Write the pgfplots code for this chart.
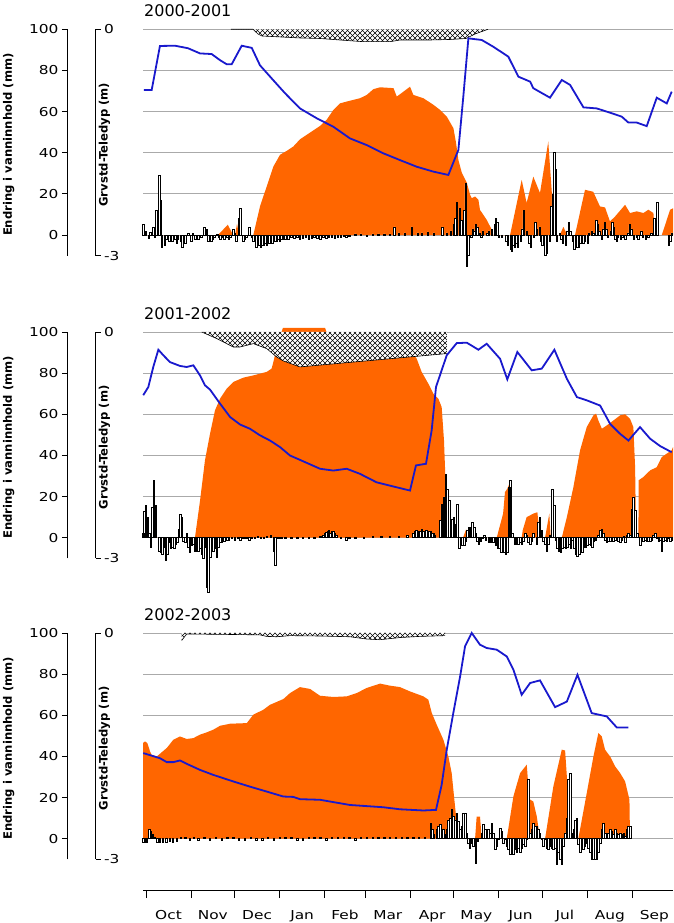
\documentclass[border=0pt]{standalone}
\usepackage{pgfplots}
\pgfplotsset{compat=1.18}
\usepackage{fontspec}
\setmainfont{DejaVu Sans}
\newfontfamily\tickfont[FakeStretch=1.25]{DejaVu Sans}
\usetikzlibrary{patterns.meta}
\definecolor{snow}{RGB}{255,102,0}
\definecolor{gw}{RGB}{25,25,205}
\definecolor{gridc}{RGB}{170,170,170}
\tikzdeclarepattern{
  name=diamonds, type=uncolored,
  bounding box={(-0.5pt,-0.5pt) and (5.5pt,5.5pt)},
  tile size={(5pt,5pt)},
  code={
    \draw[line width=0.45pt] (0pt,0pt) -- (5pt,5pt);
    \draw[line width=0.45pt] (0pt,5pt) -- (5pt,0pt);
  }
}
\newcommand\tickfs{\tickfont\fontsize{12.3}{14}\selectfont}
\newcommand\labfs{\bfseries\fontsize{11.6}{13}\selectfont}
\pgfplotsset{
  dataax/.style={scale only axis, width=530pt, height=226.3pt, xmin=-2.07, xmax=362.9,
    ymin=-10, ymax=100, anchor=south west, axis line style={draw=none},
    xtick=\empty, ytick={0,20,40,60,80,100}, yticklabels={,,,,,}, major tick length=0pt,
    ymajorgrids, grid style={gridc, line width=0.8pt}, clip=false,
    every axis title/.style={at={(axis description cs:0.0019,1)}, anchor=base west, yshift=12.4pt,
      inner sep=0pt, font=\fontsize{16}{18}\selectfont}},
  secax/.style={scale only axis, width=530pt, height=226.3pt, xmin=-2.07, xmax=362.9,
    ymin=-3, ymax=0, anchor=south west, hide axis, clip=false},
  leftax/.style={scale only axis, width=10pt, height=226.3pt, xmin=0, xmax=1,
    ymin=-10, ymax=100, anchor=south west, axis x line=none, axis y line*=left,
    y axis line style={-, line width=0.8pt}, xtick=\empty,
    ytick={0,20,40,60,80,100}, yticklabels={0,20,40,60,80,100},
    tick align=outside, major tick length=5.7pt, tick style={line width=0.8pt, black},
    yticklabel style={font=\tickfs},
    ylabel={Endring i vanninnhold (mm)},
    ylabel style={at={(axis description cs:-5.9,0.49)}, anchor=center, font=\labfs}},
  rightax/.style={scale only axis, width=10pt, height=226.3pt, xmin=0, xmax=1,
    ymin=-3, ymax=0, anchor=south west, axis x line=none, axis y line*=right,
    y axis line style={-, line width=0.8pt}, xtick=\empty,
    ytick={-3,0}, yticklabels={-3,0},
    tick align=outside, major tick length=5pt, tick style={line width=0.8pt, black},
    yticklabel style={font=\tickfs},
    ylabel={Grvstd-Teledyp (m)},
    ylabel style={at={(axis description cs:1.9,0.49)}, anchor=center, font=\labfs}},
  snowplot/.style={fill=snow, draw=none},
  barplot/.style={ybar, bar width=1, fill=white, draw=black, line width=0.5pt},
  gwplot/.style={gw, line width=1.8pt},
}
\begin{document}
\begin{tikzpicture}[x=1pt,y=1pt]
\path[use as bounding box] (0,0) rectangle (673,923);
%================ PANEL 1 ================
\begin{axis}[dataax, at={(143pt,667.4pt)}, title={2000-2001}]
\addplot[snowplot] coordinates {(-2,0) (49.6,0) (56.3,5) (60,0) (61.3,0) (62.7,5.5) (64,0) (73.9,0) (78.5,13.9) (83.1,23.6) (87.7,33.3) (92.3,39) (96.9,40.9) (101.4,43) (106,46.5) (119.8,53) (124.4,56) (129,60.8) (133.6,64) (140.5,65.3) (147.4,66.5) (152,68.1) (156.6,70.9) (161.2,71.8) (170.4,71.4) (172.7,67.3) (177.3,69.7) (181.8,72.1) (184.1,68.1) (191,66.5) (197.9,63.3) (202.5,60.8) (207.1,57.6) (211.7,51.9) (213.5,44.8) (215.1,36.5) (217.5,30.2) (220.9,25.4) (223.2,19.5) (224.3,17.9) (226.6,18.7) (228.9,17.1) (230,12.2) (234.6,7.4) (238.1,2.6) (239.2,0) (250.7,0) (258.7,26.8) (262.1,15.6) (266.7,28.4) (271.3,20.4) (277,45.4) (280.5,10) (281.7,0) (285,0) (287.4,4) (290,0) (295.4,0) (302.3,22) (308,21) (312.6,13.9) (316.1,13.4) (319.5,6.6) (323,9) (329.9,14.7) (333.3,10.7) (337.9,11.5) (342.5,10.7) (345.9,12.3) (349.4,10.7) (350.6,0) (355.2,0) (360.9,12.3) (362.9,13) (362.9,0)};
\addplot[barplot] coordinates {(-2,5) (0,2) (2,-1.5) (3,1.5) (5,4) (6,-1) (7,12) (9,29) (10,17) (11,-6) (13,-5) (14,-2) (16,-3) (17,-2) (18,-3) (20,-2) (21,-4) (22,-2) (24,-3) (25,-6) (27,-4) (29,1) (31,-3) (32,1) (34,-2) (35,-1) (36,-2) (38,-1) (40,4) (42,3) (43,-3) (45,-3) (46,-2) (47,-1) (49,0.5) (50,-1) (51,-2) (53,-1) (54,-2) (56,-1) (57,-2) (58,-1) (60,3) (61,1) (62,-3) (64,8) (65,13) (67,-3) (68,-2) (69,-1) (71,4) (73,-1) (74,-3) (76,-6) (77,-5) (78,-5) (79,-6) (80,-5) (81,-5) (82,-4) (83,-5) (84,-4) (85,-4) (86,-3) (87,-4) (88,-3) (89,-3) (90,-3) (91,-2) (92,-3) (93,-2) (94,-2) (95,-2) (96,-2) (97,-1) (98,-2) (99,-1) (100,-1) (102,-1.5) (104,-1) (106,-2) (108,-1.5) (110,-1) (112,-2) (114,-1.5) (116,-1) (118,-1.5) (120,-2) (122,-1) (124,-1.5) (126,-1) (128,-1) (130,-1.5) (132,-1) (134,-1) (136,-0.5) (138,-1) (140,-0.5) (144,0.5) (148,0.5) (152,-0.5) (156,0.5) (160,0.5) (164,0.5) (168,0.5) (171,4) (174,1) (178,1) (183,4) (187,1) (190,1) (194,1.5) (198,1) (204,4) (207,1) (210,2) (212,5) (213,8) (214,16) (216,13) (217,7) (218,5) (219,12) (220,25) (221,-15) (222,-10) (224,-1) (225,3) (226,2) (227,5) (228,4) (230,1) (231,-1) (232,2) (235,1) (236,2) (238,3) (240,5) (241,8) (242,6) (243,-1) (245,-1) (248,-3) (249,-5) (251,-7) (252,-8) (253,-5) (254,-6) (255,-4) (256,-6) (258,-3) (259,3) (260,12) (262,2) (264,-4) (265,-6) (267,-1) (268,6) (269,3) (271,4) (272,-3) (273,-5) (275,-10) (276,-9) (278,-3) (279,14) (280,20) (281,40) (282,32) (283,-3) (285,1) (286,-2) (287,-4) (289,-5) (290,2) (291,6) (292,2) (294,-3) (295,-7) (297,-6) (298,-6) (299,-4) (301,-4) (302,-3) (304,-4) (305,1) (307,2) (308,1) (310,7) (311,5) (312,2) (314,-2) (315,3) (316,6) (317,3) (318,-1) (320,2) (321,6) (322,4) (323,-2) (324,-3) (325,-1) (327,-2) (328,-1) (330,-2) (332,1) (333,5) (334,3) (336,-2) (338,-1) (339,-2) (341,2) (342,-1) (344,-2) (346,-1) (348,1) (350,8) (352,16) (360,-5) (361,-3) (362,1)};
\end{axis}
\begin{axis}[secax, at={(143pt,667.4pt)}]
\addplot[fill=white, draw=none] coordinates {(58.5,0) (73.7,0) (77.1,-0.062) (79.9,-0.089) (106,-0.115) (119.8,-0.122) (133.6,-0.142) (149.4,-0.164) (168,-0.164) (174.9,-0.142) (195.6,-0.142) (209.4,-0.135) (220.4,-0.122) (226.6,-0.062) (235.5,0)};
\addplot[pattern=diamonds, pattern color=black, draw=none] coordinates {(58.5,0) (73.7,0) (77.1,-0.062) (79.9,-0.089) (106,-0.115) (119.8,-0.122) (133.6,-0.142) (149.4,-0.164) (168,-0.164) (174.9,-0.142) (195.6,-0.142) (209.4,-0.135) (220.4,-0.122) (226.6,-0.062) (235.5,0)};
\addplot[black, line width=0.6pt] coordinates {(58.5,0) (73.7,0) (77.1,-0.062) (79.9,-0.089) (106,-0.115) (119.8,-0.122) (133.6,-0.142) (149.4,-0.164) (168,-0.164) (174.9,-0.142) (195.6,-0.142) (209.4,-0.135) (220.4,-0.122) (226.6,-0.062) (235.5,0)};
\addplot[gwplot] coordinates {(-1.4,-0.806) (3.9,-0.806) (9.6,-0.221) (20,-0.218) (28.9,-0.251) (37.2,-0.320) (45.2,-0.328) (51,-0.410) (55.6,-0.464) (59,-0.464) (65.9,-0.218) (72.8,-0.246) (78.5,-0.478) (87.5,-0.672) (95.7,-0.847) (106,-1.049) (117.6,-1.180) (129,-1.292) (140.5,-1.447) (152,-1.535) (163.4,-1.644) (174.9,-1.734) (186.4,-1.822) (197.9,-1.887) (208.2,-1.931) (215.1,-1.600) (218.5,-0.893) (222,-0.120) (231.2,-0.142) (239.2,-0.232) (249.5,-0.363) (256.4,-0.628) (264.5,-0.694) (266.7,-0.781) (278.2,-0.907) (286.3,-0.672) (292,-0.737) (301.2,-1.035) (310.4,-1.049) (319.6,-1.106) (327.6,-1.158) (332.2,-1.237) (338,-1.237) (344.8,-1.284) (351.7,-0.907) (358.6,-0.983) (362,-0.827)};
\end{axis}
\begin{axis}[leftax, at={(67.7pt,667.4pt)}]
\addplot[draw=none] coordinates {(0,0)};
\end{axis}
\begin{axis}[rightax, at={(85.5pt,667.4pt)}]
\addplot[draw=none] coordinates {(0,-1)};
\end{axis}
%================ PANEL 2 ================
\begin{axis}[dataax, at={(143pt,364.7pt)}, title={2001-2002}]
\addplot[snowplot] coordinates {(-2,0) (33.7,0) (37.2,18) (40.6,37.6) (44.1,50.6) (47.5,61.9) (51,67.6) (55.6,72.5) (60.1,75.7) (67,77.8) (73.9,78.9) (83.1,80.6) (86.5,82.2) (87.7,85.4) (90.9,95) (94.3,102) (123.3,102) (126.7,95) (181.8,92) (186.4,87) (189.8,80.6) (194.4,74.9) (197.9,70) (201.3,67.6) (203.6,63.5) (205.2,47.3) (206.4,24.6) (208.2,11.7) (210.5,0) (218.3,0) (220.4,4) (223.1,0) (241.5,0) (245.9,11.7) (247.2,22.2) (248.8,23.8) (250.7,27) (251.4,0) (258.7,0) (259.4,3.6) (262.1,10) (266.7,11.7) (269.5,12.4) (271.3,0) (274.8,0) (277.7,11.7) (278.7,0) (286.3,0) (289.8,10) (294.3,24.6) (298.9,42.5) (303.5,53.8) (308.1,59.5) (309.9,60.3) (311.5,57) (313.9,53) (317.3,54.6) (321.9,57) (326.5,59.5) (329.9,60) (333.3,57.8) (335.6,53.8) (336.8,34.3) (337.5,0) (339.1,0) (339.2,27.9) (342.5,29.5) (347.1,32.7) (351.7,34.3) (355.2,39.2) (358.6,40.9) (362,42.5) (362.9,44) (362.9,0)};
\addplot[barplot] coordinates {(-2,2) (-1.2,13) (0,16) (1.2,10) (2.3,2) (3.2,-4.5) (4.3,15) (5.5,28) (6.7,16) (9,-6.5) (10.1,-7) (11.2,-8) (12.4,-4.5) (13.6,-11) (14.7,-8) (15.8,-2) (17,-5) (18.1,-4.5) (19.3,-5) (20.5,-3) (21.6,-2) (22.7,4) (23.6,11.6) (24.6,10) (25.7,-1.5) (26.9,-2) (28,2) (29.1,-4.5) (30.3,-7) (31.5,-3.5) (32.6,-3) (33.7,-6.5) (34.9,-6.5) (36,-6.5) (37.2,-5) (38.4,-8) (39.5,-10) (40.6,-4.5) (41.8,-24) (42.9,-26.5) (44.1,-9.5) (45.2,-4.5) (46.3,-6.5) (47.5,-5) (48.7,-9.5) (49.8,-4.5) (51,-2) (52,-2) (53,-1.5) (54,-1.5) (55,-1) (56,-1) (57,-1) (59,-0.5) (61,-1) (63,-0.5) (65,-1) (67,-0.5) (69,-0.5) (71,-1) (73,-0.5) (75,-0.5) (77,0.5) (79,-0.5) (81,-0.5) (83,0.5) (86,1) (88,-6.5) (89,-13.5) (91,-0.5) (93,-0.5) (96,-0.5) (100,-0.5) (104,-0.5) (108,-0.5) (112,-0.5) (116,-0.5) (120,0.5) (122,1) (123,2) (124,2.5) (125,3) (126,3.5) (127,2) (128,3) (129,3) (130,2) (131,1) (134,-0.5) (138,-1) (140,-0.5) (144,-0.5) (150,-0.5) (156,0.5) (162,0.5) (168,0.5) (174,0.5) (180,1) (184,2) (185,3) (186,3.5) (187,3) (188,2) (189,3) (190,4) (191,3) (192,3) (193,3.5) (194,2) (195,3) (196,3) (197,2) (198,2) (199,1) (202.5,8.4) (203.6,16.2) (205.2,19.8) (206.4,31) (207.5,23.8) (208.7,18) (209.8,9.2) (211,9.2) (212.1,10) (213.3,6.5) (214.4,16.2) (215.6,-5) (216.7,-2) (217.8,-3.5) (219,-3.5) (220.2,-1.5) (221.3,3.5) (222.4,5) (223.6,5) (224.7,7.5) (225.9,5) (227.1,2) (228.2,-1.5) (229.3,-3) (230.5,-1.5) (231.6,-0.5) (232.8,1) (234,-1) (236,-2) (237.5,-2) (239,-2) (241,-3.5) (242.2,-5) (243.3,-5) (244.5,-7) (245.7,-4.5) (246.8,-7) (247.9,-8) (248.8,-7) (250,24.6) (250.9,27.9) (252.1,2) (254.1,-3) (255.3,-3) (256.4,-3) (257.6,-2) (258.7,-3) (259.8,-1.5) (261,2) (262.2,1) (263.3,-2) (264.5,-3) (265.6,-1.5) (266.7,2) (269.1,-3) (270.2,7.5) (271.3,10) (272.5,3.5) (273.6,-1.5) (274.8,-3) (276,-6.5) (277.1,-3) (278.2,1) (279.6,23.8) (281,15.7) (282.2,-1) (283.3,-5) (284.4,-6.5) (285.6,-7) (286.7,-5) (287.9,-4.5) (289,-5) (290.2,-4.5) (291.3,-3) (292.5,-5) (293.6,-1) (294.8,-5) (295.9,-8) (297,-9) (298.2,-8) (299.4,-7) (300.5,-7) (301.6,-4.5) (302.8,-4.5) (303.9,-3.5) (305.1,-3) (306.3,-3.5) (307.4,-4.5) (308.5,-1.5) (309.7,-1) (311.5,1) (312.7,3.5) (313.8,4) (314.9,2) (316.1,-1) (317.3,-2) (318.4,-1.5) (319.6,-1.5) (320.7,-1) (321.9,-1.5) (323,-1) (324.2,-0.5) (325.3,-1.5) (326.5,-2) (327.6,-1) (328.8,0.5) (329.9,-2) (331.1,1) (332.2,2) (333.3,1) (334.5,14) (335.6,19.8) (336.8,13.3) (338.4,2) (340.2,-3.5) (341.4,-1.5) (342.5,-1.5) (343.7,-1) (344.8,-1.5) (346,-1.5) (347.1,-1.5) (348.3,-1) (349.4,1) (350.6,2) (351.7,-0.5) (352.9,-1.5) (354,-1) (355.2,-6.5) (356.3,-1.5) (357.4,-1) (358.6,-1.5) (359.7,-0.5) (360.9,-1.5) (362,-1)};
\end{axis}
\begin{axis}[secax, at={(143pt,364.7pt)}]
\addplot[fill=white, draw=none] coordinates {(38.4,0) (48.7,-0.087) (60.1,-0.199) (64.7,-0.199) (73.9,-0.154) (83.1,-0.220) (90,-0.331) (94.6,-0.384) (106,-0.463) (207.1,-0.286) (207.1,0)};
\addplot[pattern=diamonds, pattern color=black, draw=none] coordinates {(38.4,0) (48.7,-0.087) (60.1,-0.199) (64.7,-0.199) (73.9,-0.154) (83.1,-0.220) (90,-0.331) (94.6,-0.384) (106,-0.463) (207.1,-0.286) (207.1,0)};
\addplot[black, line width=0.6pt] coordinates {(38.4,0) (48.7,-0.087) (60.1,-0.199) (64.7,-0.199) (73.9,-0.154) (83.1,-0.220) (90,-0.331) (94.6,-0.384) (106,-0.463) (207.1,-0.286)};
\addplot[gwplot] coordinates {(-1.9,-0.838) (1.6,-0.729) (5,-0.464) (8.5,-0.235) (11.9,-0.308) (16.5,-0.399) (23.4,-0.450) (28,-0.464) (32.6,-0.442) (37.2,-0.576) (40.6,-0.707) (44.1,-0.764) (51,-0.950) (57.9,-1.127) (64.7,-1.226) (71.6,-1.283) (78.5,-1.370) (85.4,-1.439) (92.3,-1.526) (99.2,-1.638) (106,-1.695) (119.8,-1.813) (129,-1.837) (138.2,-1.813) (147.4,-1.881) (158.8,-1.993) (170.3,-2.048) (181.8,-2.102) (185.9,-1.769) (192.8,-1.747) (196.7,-1.305) (199.7,-0.729) (207.1,-0.308) (214,-0.147) (220.9,-0.142) (228.9,-0.235) (234.6,-0.156) (243.8,-0.355) (248.8,-0.628) (255.7,-0.265) (265.6,-0.508) (272.5,-0.486) (281.2,-0.235) (289.8,-0.620) (296.7,-0.863) (303.5,-0.906) (312.7,-0.975) (319.6,-1.218) (326.4,-1.349) (332.2,-1.439) (340.2,-1.261) (347.1,-1.414) (354,-1.512) (362,-1.594)};
\end{axis}
\begin{axis}[leftax, at={(67.7pt,364.7pt)}]
\addplot[draw=none] coordinates {(0,0)};
\end{axis}
\begin{axis}[rightax, at={(85.5pt,364.7pt)}]
\addplot[draw=none] coordinates {(0,-1)};
\end{axis}
%================ PANEL 3 ================
\begin{axis}[dataax, at={(143pt,63.7pt)}, title={2002-2003}]
\addplot[snowplot] coordinates {(-2.07,0) (-2.07,46.5) (-0.7,47.3) (0.9,46.5) (2.8,42.4) (3.9,40.8) (7.4,40) (9.6,41.3) (14.3,44.1) (18.8,48.1) (23.4,49.7) (28,48.5) (32.6,48.9) (37.2,50.6) (41.8,51.7) (46.3,53) (51,54.9) (57.9,55.9) (69.4,56.2) (73.9,60.3) (80.8,62.7) (85.4,65.1) (94.6,67.9) (99.2,70.8) (106,73.7) (113,72.8) (119.8,69.5) (129,68.9) (138.2,69.2) (145.1,70.8) (152,73.3) (161.2,75.4) (168,74.4) (174.9,73.7) (181.8,71.6) (191,69.2) (194.4,67.6) (196.8,61.1) (200.2,55.4) (204.8,48.1) (208.2,40) (210.5,31.9) (212.1,20.6) (214,7.6) (215.1,0) (226.6,0) (227.7,10.8) (230,10.8) (231.2,0) (248.4,0) (253,20.6) (257.6,31.9) (262.2,36) (263.3,25.4) (264.5,19) (266.7,18.1) (269.1,10.8) (271.3,0) (274.8,0) (280.5,25.4) (286.3,43.3) (288.6,42.9) (289.8,30.3) (290.4,0) (297.7,0) (303.5,22.2) (308.1,40) (311.5,51.4) (313.8,49.8) (316.1,43.3) (319.6,40) (323,35.2) (326.5,31.9) (329.9,27.9) (332.9,19) (333.3,0)};
\addplot[barplot] coordinates {(-1.9,-1.5) (-0.7,-1.5) (0.5,-1.5) (2.3,4.4) (3.4,3.6) (4.6,2) (5.7,0.7) (7.6,-1.5) (9.6,-1.5) (11.7,-1.5) (13.8,-1.5) (16.5,-1) (18.6,-1.5) (21.1,-1) (24,0.5) (27,0.5) (30,-0.5) (33,0.5) (36,-0.5) (40,0.5) (44,-0.5) (48,0.5) (52,-0.5) (56,0.5) (60,0.5) (64,-0.5) (68,-0.5) (72,0.5) (76,-0.5) (80,-0.5) (84,0.5) (88,-0.5) (92,0.5) (96,0.5) (100,0.5) (104,-0.5) (108,-0.5) (112,0.5) (116,0.5) (120,0.5) (124,-0.5) (128,0.5) (132,0.5) (136,0.5) (140,0.5) (144,-0.5) (148,0.5) (152,0.5) (156,0.5) (160,0.5) (164,0.5) (168,0.5) (172,0.5) (176,0.5) (180,0.5) (184,0.5) (188,0.5) (192,0.5) (196.1,7.6) (197.2,4.4) (198.3,2) (200.2,4.4) (201.3,5.9) (202.5,6.8) (203.6,2.8) (204.8,4.4) (205.9,2) (207.1,4.4) (208.2,9.2) (209.4,10) (210.5,14.1) (211.6,10.8) (212.8,9.2) (214,12.4) (215.1,8.4) (216.3,4.4) (217.4,5.9) (218.5,12.4) (219.7,12.4) (220.9,2.8) (222,-2) (223.1,-4.4) (224.3,-2) (225.4,-3.6) (227.1,-11.8) (228.4,-1.2) (229.5,0.3) (231.2,2.8) (232.3,6.8) (233.5,4.4) (234.6,2) (235.7,4.4) (236.9,2.8) (238.1,7.6) (239.2,2.8) (240.4,-5.2) (241.5,-3.6) (242.6,-0.4) (243.8,5.1) (245,3.6) (246.1,-2) (247.2,-0.4) (248.4,-3.6) (249.5,-5.2) (250.7,-7.6) (251.9,-6.8) (253,-7.6) (254.1,-5.2) (255.3,-6.8) (256.4,-4.4) (257.6,-6.8) (258.7,-4.4) (259.8,-2.8) (261,-3.6) (262.2,-0.4) (263.3,28.7) (264.5,2.8) (265.6,4.4) (266.7,7.6) (267.9,5.9) (269.1,5.9) (270.2,4.4) (271.3,2.8) (272.5,-0.4) (273.6,-3.6) (274.8,-0.4) (276,-4.4) (277.1,-5.2) (278.2,-3.6) (279.4,-4.4) (280.5,-5.2) (281.7,-4.4) (282.9,-12.2) (284,-6.8) (285.1,-10) (286.3,-12.6) (287.4,-3.6) (288.6,2.8) (289.8,10) (290.9,28.7) (292.1,32) (293.3,2.8) (294.4,4.4) (295.5,9.2) (296.7,10) (297.7,-2.8) (298.9,-6.8) (300.1,-3.6) (301.2,-5.2) (302.3,-3.6) (303.5,-2) (304.6,-4.4) (305.8,-6.8) (306.9,-10) (308.1,-10) (309.2,-10) (310.4,-10) (311.5,-6.8) (312.7,-2) (313.8,4.4) (314.9,7.6) (316.1,2.8) (317.3,1.2) (318.4,2.8) (319.6,4.4) (320.7,3.6) (321.9,2) (323,4.4) (324.2,2.8) (325.3,2) (326.5,2.8) (327.6,2) (328.8,2.8) (329.9,1.2) (331.1,4.4) (332.2,5.9) (333.3,5.9)};
\end{axis}
\begin{axis}[secax, at={(143pt,63.7pt)}]
\addplot[fill=white, draw=none] coordinates {(24.6,0) (24.6,-0.098) (28,-0.013) (60,-0.02) (78.5,-0.025) (83,-0.045) (90,-0.05) (99,-0.035) (120,-0.04) (140.5,-0.05) (152,-0.08) (161,-0.089) (175,-0.06) (188.7,-0.045) (206,-0.035) (206,0)};
\addplot[pattern=diamonds, pattern color=black, draw=none] coordinates {(24.6,0) (24.6,-0.098) (28,-0.013) (60,-0.02) (78.5,-0.025) (83,-0.045) (90,-0.05) (99,-0.035) (120,-0.04) (140.5,-0.05) (152,-0.08) (161,-0.089) (175,-0.06) (188.7,-0.045) (206,-0.035) (206,0)};
\addplot[black, line width=0.6pt] coordinates {(24.6,-0.098) (28,-0.013) (60,-0.02) (78.5,-0.025) (83,-0.045) (90,-0.05) (99,-0.035) (120,-0.04) (140.5,-0.05) (152,-0.08) (161,-0.089) (175,-0.06) (188.7,-0.045) (206,-0.035)};
\addplot[gwplot] coordinates {(-1.9,-1.592) (9.6,-1.660) (14.3,-1.712) (18.8,-1.712) (23.4,-1.690) (28,-1.734) (37.2,-1.815) (46.3,-1.881) (60.1,-1.968) (71.6,-2.037) (83.1,-2.102) (94.6,-2.168) (101.4,-2.173) (106,-2.203) (119.8,-2.211) (140.5,-2.280) (163.4,-2.310) (174.9,-2.337) (191,-2.353) (199.7,-2.345) (203.6,-2.012) (207.1,-1.548) (211.6,-1.062) (216.3,-0.576) (219.7,-0.177) (224.3,0) (230,-0.156) (234.6,-0.199) (241.5,-0.221) (248.4,-0.311) (253,-0.486) (258.7,-0.819) (264.5,-0.663) (271.3,-0.628) (281.7,-0.983) (289.8,-0.909) (297.1,-0.554) (306.9,-1.062) (317.3,-1.106) (324.2,-1.253) (332.2,-1.253)};
\end{axis}
\begin{axis}[leftax, at={(67.7pt,63.7pt)}]
\addplot[draw=none] coordinates {(0,0)};
\end{axis}
\begin{axis}[rightax, at={(85.5pt,63.7pt)}]
\addplot[draw=none] coordinates {(0,-1)};
\end{axis}
%================ MONTH AXIS ================
\begin{axis}[scale only axis, width=530pt, height=10pt, xmin=-2.07, xmax=362.9, ymin=0, ymax=1,
  at={(143pt,33pt)}, anchor=south west, axis y line=none, axis x line*=bottom,
  x axis line style={-, line width=0.8pt}, ytick=\empty,
  xtick={0,31,61,92,123,151,182,212,243,273,304,335}, xticklabels={,,,,,,,,,,,},
  tick align=outside, major tick length=8pt, tick style={line width=0.8pt, black},
  extra x ticks={15.5,46,76.5,107.5,137,166.5,197,227.5,258,288.5,319.5,350},
  extra x tick labels={Oct,Nov,Dec,Jan,Feb,Mar,Apr,May,Jun,Jul,Aug,Sep},
  extra x tick style={major tick length=0pt, tick style={draw=none},
    xticklabel style={font=\tickfs, anchor=north, yshift=-16.5pt}}]
\addplot[draw=none] coordinates {(0,0)};
\end{axis}
\end{tikzpicture}
\end{document}
